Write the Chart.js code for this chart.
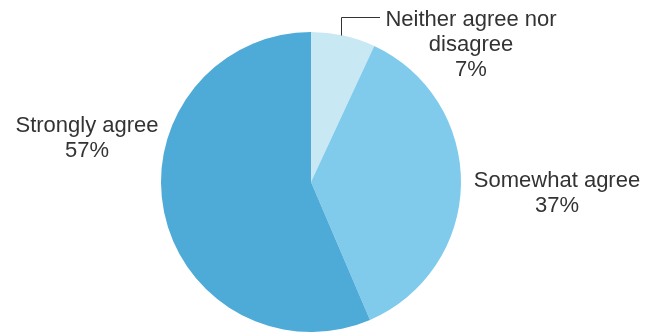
<!DOCTYPE html>
<html>
<head>
<meta charset="utf-8">
<script src="https://cdn.jsdelivr.net/npm/chart.js@4"></script>
<style>
  html, body { margin: 0; padding: 0; background: #fff; }
  #wrap { width: 658px; height: 333px; }
</style>
</head>
<body>
<div id="wrap"><canvas id="pieChart" width="658" height="333"></canvas></div>
<script>
// survey answers and their shares (%)
var categories = ['Neither agree nor disagree', 'Somewhat agree', 'Strongly agree'];
var shares = [7, 37, 57];
var sliceColors = ['#c8e8f4', '#80cbec', '#4eaad7'];

// label text lines drawn beside each slice
var labelLines = [
  ['Neither agree nor', 'disagree', '7%'],
  ['Somewhat agree', '37%'],
  ['Strongly agree', '57%']
];
// label anchor (centre x, first baseline y) in canvas pixels
var labelAnchors = [[471, 26], [557, 187], [87, 132]];

var textFont = '22px "Liberation Sans", Arial, sans-serif';
var lineHeight = 25;

/* draws the text labels and the leader line for the small slice */
var sliceLabels = {
  id: 'sliceLabels',
  afterDraw: function (chart) {
    var ctx = chart.ctx;
    var arcs = chart.getDatasetMeta(0).data;
    ctx.save();
    ctx.font = textFont;
    ctx.fillStyle = '#333333';
    ctx.textAlign = 'center';
    ctx.textBaseline = 'alphabetic';
    labelLines.forEach(function (lines, i) {
      lines.forEach(function (txt, j) {
        ctx.fillText(txt, labelAnchors[i][0], labelAnchors[i][1] + j * lineHeight);
      });
    });

    // leader: from mid-angle of first slice up, then right to its label
    var a = arcs[0];
    var mid = (a.startAngle + a.endAngle) / 2;
    var px = a.x + Math.cos(mid) * a.outerRadius;
    var py = a.y + Math.sin(mid) * a.outerRadius;
    var lineY = labelAnchors[0][1] - 9;
    ctx.strokeStyle = '#333333';
    ctx.lineWidth = 1;
    ctx.beginPath();
    ctx.moveTo(Math.round(px) - 2 + 0.5, py);
    ctx.lineTo(Math.round(px) - 2 + 0.5, lineY + 0.5);
    ctx.lineTo(380, lineY + 0.5);
    ctx.stroke();
    ctx.restore();
  }
};

new Chart(document.getElementById('pieChart').getContext('2d'), {
  type: 'pie',
  data: {
    labels: categories,
    datasets: [{
      data: shares,
      backgroundColor: sliceColors,
      borderWidth: 0
    }]
  },
  options: {
    responsive: false,
    animation: false,
    layout: { padding: { left: 161, right: 197, top: 32, bottom: 1 } },
    plugins: {
      legend: { display: false },
      tooltip: { enabled: false }
    }
  },
  plugins: [sliceLabels]
});
</script>
</body>
</html>
